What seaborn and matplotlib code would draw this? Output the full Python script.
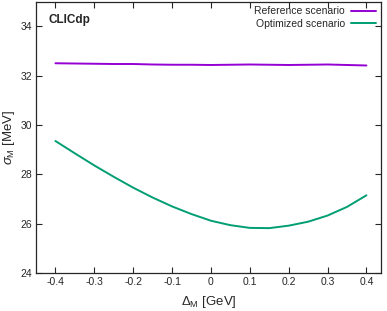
import numpy as np
import pandas as pd
import seaborn as sns
import matplotlib
matplotlib.use('Agg')
import matplotlib.pyplot as plt

# delta M [GeV]
delta_m = [-0.4, -0.35, -0.3, -0.25, -0.2, -0.15, -0.1, -0.05, 0.0,
           0.05, 0.1, 0.15, 0.2, 0.25, 0.3, 0.35, 0.4]
# sigma M [MeV]
sigma_ref = [32.50, 32.49, 32.48, 32.47, 32.47, 32.45, 32.44, 32.44, 32.43,
             32.44, 32.45, 32.44, 32.43, 32.44, 32.45, 32.43, 32.41]
sigma_opt = [29.35, 28.85, 28.36, 27.90, 27.46, 27.06, 26.70, 26.39, 26.12,
             25.94, 25.83, 25.82, 25.92, 26.08, 26.33, 26.68, 27.15]
labels = ['Reference scenario', 'Optimized scenario']

df = pd.concat([
    pd.DataFrame({'dm': delta_m, 'sigma': sigma_ref, 'scenario': labels[0]}),
    pd.DataFrame({'dm': delta_m, 'sigma': sigma_opt, 'scenario': labels[1]}),
])

sns.set_style('ticks')
plt.rcParams['font.family'] = ['Liberation Sans', 'DejaVu Sans']
plt.rcParams['mathtext.fontset'] = 'custom'
plt.rcParams['mathtext.rm'] = 'Liberation Sans'
plt.rcParams['mathtext.it'] = 'Liberation Sans:italic'

fig = plt.figure(figsize=(3.87, 3.11), dpi=100)
ax = fig.add_axes([0.093, 0.122, 0.891, 0.873])
sns.lineplot(data=df, x='dm', y='sigma', hue='scenario',
             palette=['#9400d3', '#009e73'], linewidth=1.4, ax=ax)

ax.set_xlim(-0.45, 0.437)
ax.set_ylim(24, 35)
ax.set_xticks([-0.4, -0.3, -0.2, -0.1, 0, 0.1, 0.2, 0.3, 0.4])
ax.set_xticklabels(['-0.4', '-0.3', '-0.2', '-0.1', '0', '0.1', '0.2', '0.3', '0.4'])
ax.set_yticks([24, 26, 28, 30, 32, 34])
ax.tick_params(direction='in', top=True, right=True, length=4, width=0.8,
               labelsize=7.5, pad=3)
for s in ax.spines.values():
    s.set_linewidth(0.9)
ax.set_xlabel(r'$\Delta_{\rm M}$ [GeV]', fontsize=9.5, labelpad=5)
ax.set_ylabel(r'$\sigma_{\rm M}$ [MeV]', fontsize=9.5, labelpad=2)

ax.text(0.035, 0.955, 'CLICdp', transform=ax.transAxes, fontsize=8.5,
        fontweight='bold', va='top', ha='left')

ax.legend(loc='upper right', frameon=False, markerfirst=False, fontsize=7.5,
          handlelength=2.4, handletextpad=0.6, labelspacing=0.25,
          borderaxespad=0.35, borderpad=0.1, title=None)

fig.savefig('out.png', dpi=100)
